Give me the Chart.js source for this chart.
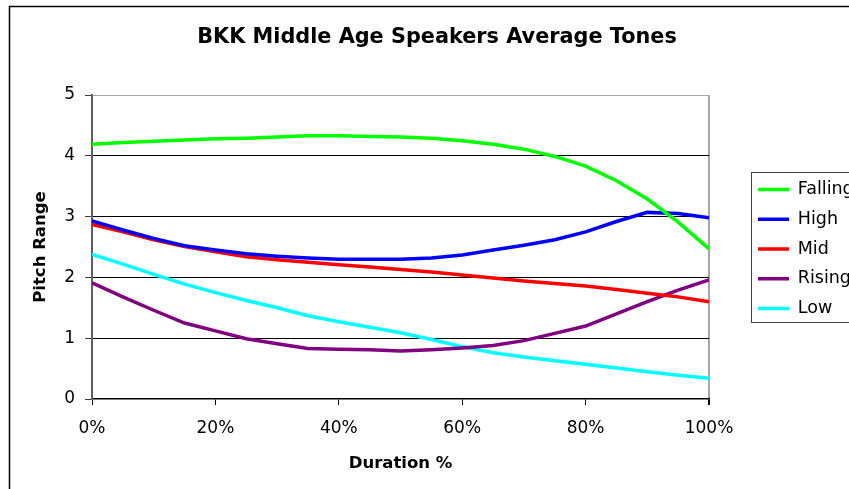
<!DOCTYPE html>
<html>
<head>
<meta charset="utf-8">
<title>BKK Middle Age Speakers Average Tones</title>
<script src="https://cdn.jsdelivr.net/npm/chart.js"></script>
<style>
  html, body { margin: 0; padding: 0; background: #fff; }
  canvas { display: block; }
</style>
</head>
<body>
<canvas id="tones" width="849" height="489"></canvas>
<script>
// measurement points, % of vowel duration
const duration = [0, 5, 10, 15, 20, 25, 30, 35, 40, 45, 50, 55, 60, 65, 70, 75, 80, 85, 90, 95, 100];

// average pitch range per tone
const falling = [4.19, 4.22, 4.24, 4.26, 4.28, 4.29, 4.31, 4.33, 4.33, 4.32, 4.31, 4.29, 4.25, 4.19, 4.11, 3.99, 3.83, 3.59, 3.29, 2.91, 2.47];
const high    = [2.93, 2.78, 2.64, 2.52, 2.45, 2.39, 2.35, 2.32, 2.30, 2.30, 2.30, 2.32, 2.37, 2.45, 2.53, 2.62, 2.75, 2.92, 3.07, 3.05, 2.98];
const mid     = [2.87, 2.75, 2.62, 2.51, 2.42, 2.34, 2.29, 2.25, 2.21, 2.17, 2.13, 2.09, 2.04, 1.99, 1.94, 1.90, 1.86, 1.80, 1.74, 1.68, 1.60];
const rising  = [1.91, 1.68, 1.46, 1.25, 1.12, 0.99, 0.91, 0.83, 0.82, 0.81, 0.79, 0.81, 0.84, 0.88, 0.96, 1.08, 1.20, 1.40, 1.60, 1.79, 1.96];
const low     = [2.38, 2.22, 2.05, 1.89, 1.75, 1.62, 1.50, 1.37, 1.27, 1.18, 1.09, 0.98, 0.86, 0.76, 0.69, 0.63, 0.57, 0.51, 0.45, 0.39, 0.34];

const toneNames  = ['Falling', 'High', 'Mid', 'Rising', 'Low'];
const toneValues = [falling, high, mid, rising, low];
const toneColors = ['#00ff00', '#0000ff', '#ff0000', '#800080', '#00ffff'];

Chart.defaults.font.family = "'DejaVu Sans', sans-serif";
Chart.defaults.color = '#000';

// white sheet with the frame line on the left and top
const sheetBorder = {
    id: 'sheetBorder',
    beforeDraw(chart) {
        const ctx = chart.ctx;
        ctx.save();
        ctx.fillStyle = '#fff';
        ctx.fillRect(0, 0, chart.width, chart.height);
        ctx.strokeStyle = '#000';
        ctx.lineWidth = 1.5;
        ctx.beginPath();
        ctx.moveTo(9.5, chart.height);
        ctx.lineTo(9.5, 6.5);
        ctx.lineTo(chart.width, 6.5);
        ctx.stroke();
        ctx.restore();
    }
};

// box around the legend entries
const legendFrame = {
    id: 'legendFrame',
    afterDraw(chart) {
        const boxes = chart.legend && chart.legend.legendHitBoxes;
        if (!boxes || !boxes.length) return;
        const first = boxes[0];
        const last = boxes[boxes.length - 1];
        const top = Math.round(first.top - 9) + 0.5;
        const bottom = Math.round(last.top + last.height + 5) + 0.5;
        const ctx = chart.ctx;
        ctx.save();
        ctx.strokeStyle = '#404040';
        ctx.lineWidth = 1;
        ctx.strokeRect(Math.round(first.left - 7) + 0.5, top, 200, bottom - top);
        ctx.restore();
    }
};

const datasets = toneValues.map((vals, i) => ({
    label: toneNames[i],
    data: vals.map((v, j) => ({ x: duration[j], y: v })),
    borderColor: toneColors[i],
    backgroundColor: toneColors[i],
    borderWidth: 3.5,
    pointRadius: 0,
    pointHoverRadius: 0,
    tension: 0
}));

new Chart(document.getElementById('tones'), {
    type: 'line',
    data: { datasets },
    plugins: [sheetBorder, legendFrame],
    options: {
        responsive: false,
        animation: false,
        devicePixelRatio: 1,
        layout: { padding: { left: 25, right: 0, top: 0, bottom: 0 } },
        scales: {
            x: {
                type: 'linear',
                min: 0,
                max: 100,
                ticks: {
                    stepSize: 20,
                    callback: v => v + '%',
                    font: { size: 17 },
                    padding: 13,
                    maxRotation: 0
                },
                grid: {
                    color: c => (c.tick && c.tick.value === 100) ? '#a6a6a6' : 'rgba(0,0,0,0)',
                    lineWidth: c => (c.tick && c.tick.value === 100) ? 2 : 1,
                    tickColor: '#000',
                    tickLength: 6
                },
                border: { color: '#000', width: 1.5 },
                title: {
                    display: true,
                    text: 'Duration %',
                    font: { size: 16.5, weight: 'bold' },
                    padding: { top: 0, bottom: 15 }
                },
                afterFit: s => { s.height = 90; }
            },
            y: {
                min: 0,
                max: 5,
                ticks: { stepSize: 1, font: { size: 17 }, padding: 10 },
                grid: {
                    color: c => {
                        const v = c.tick && c.tick.value;
                        if (v === 5) return '#a6a6a6';
                        if (v === 0) return 'rgba(0,0,0,0)';
                        return '#000';
                    },
                    tickColor: '#404040',
                    tickLength: 7
                },
                border: { color: '#606060', width: 2 },
                title: {
                    display: true,
                    text: 'Pitch Range',
                    font: { size: 16.5, weight: 'bold' },
                    padding: { top: 6, bottom: 0 }
                },
                afterFit: s => { s.width = 67; }
            },
            // spacer between the plot and the legend
            y2: {
                position: 'right',
                display: true,
                grid: { display: false },
                ticks: { display: false },
                border: { display: false },
                afterFit: s => { s.width = 36.7; }
            }
        },
        plugins: {
            title: {
                display: true,
                text: 'BKK Middle Age Speakers Average Tones',
                font: { size: 20.8, weight: 'bold' },
                color: '#000',
                padding: { top: 25, bottom: 45.1 }
            },
            legend: {
                position: 'right',
                align: 'center',
                maxWidth: 103.3,
                // empty title only nudges the entries down a little
                title: { display: true, text: ' ', font: { size: 5 }, padding: { top: 3, bottom: 0 } },
                labels: {
                    font: { size: 17.5 },
                    color: '#000',
                    usePointStyle: true,
                    pointStyle: 'line',
                    pointStyleWidth: 31,
                    padding: 12.3
                }
            },
            tooltip: { enabled: false }
        }
    }
});
</script>
</body>
</html>
